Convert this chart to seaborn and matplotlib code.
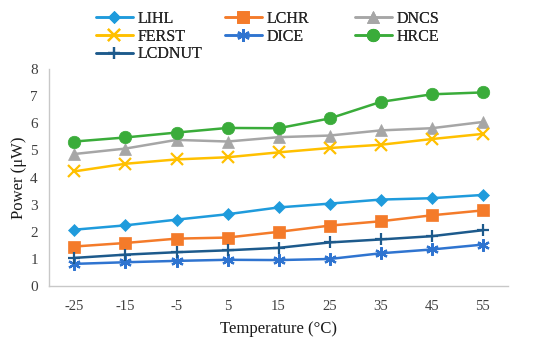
import matplotlib
matplotlib.use("Agg")
import matplotlib.pyplot as plt
import seaborn as sns
import pandas as pd

temps = ["-25", "-15", "-5", "5", "15", "25", "35", "45", "55"]
lihl = [2.08, 2.24, 2.45, 2.65, 2.90, 3.04, 3.19, 3.24, 3.36]
lchr = [1.46, 1.59, 1.75, 1.79, 2.00, 2.23, 2.39, 2.61, 2.79]
dncs = [4.87, 5.07, 5.39, 5.33, 5.49, 5.55, 5.74, 5.82, 6.05]
ferst = [4.23, 4.51, 4.67, 4.75, 4.93, 5.09, 5.21, 5.42, 5.61]
dice = [0.82, 0.88, 0.93, 0.97, 0.96, 1.00, 1.21, 1.35, 1.53]
hrce = [5.33, 5.48, 5.66, 5.83, 5.82, 6.18, 6.79, 7.07, 7.14]
lcdnut = [1.04, 1.16, 1.25, 1.32, 1.41, 1.61, 1.72, 1.84, 2.06]

series = {"LIHL": lihl, "LCHR": lchr, "DNCS": dncs, "FERST": ferst,
          "DICE": dice, "HRCE": hrce, "LCDNUT": lcdnut}
names = list(series.keys())

rows = []
for name, vals in series.items():
    for t, v in zip(temps, vals):
        rows.append({"Temperature": t, "Power": v, "Series": name})
df = pd.DataFrame(rows)

palette = {"LIHL": "#1f9bdc", "LCHR": "#f47b2a", "DNCS": "#a6a6a6",
           "FERST": "#ffc000", "DICE": "#2f74d0", "HRCE": "#3aac3a",
           "LCDNUT": "#1d5a8c"}
markers = {"LIHL": "D", "LCHR": "s", "DNCS": "^", "FERST": "x",
           "DICE": (6, 2, 0), "HRCE": "o", "LCDNUT": "+"}
msizes = {"LIHL": 6.5, "LCHR": 8.5, "DNCS": 8.5, "FERST": 8,
          "DICE": 9, "HRCE": 9, "LCDNUT": 9}

sns.set_style("white")
plt.rcParams["font.family"] = ["Liberation Serif", "DejaVu Serif"]

fig = plt.figure(figsize=(5.5, 3.37), dpi=100)
ax = fig.add_axes([0.089, 0.151, 0.835, 0.644])

for name in names:
    sub = df[df["Series"] == name]
    thin = markers[name] in ("x", "+") or isinstance(markers[name], tuple)
    sns.lineplot(data=sub, x="Temperature", y="Power", ax=ax,
                 color=palette[name], marker=markers[name],
                 markersize=msizes[name], linewidth=1.8,
                 markeredgewidth=1.6 if thin else 0.5,
                 markeredgecolor=palette[name], label=name, sort=False)

h, l = ax.get_legend_handles_labels()
hd = dict(zip(l, h))
ax.get_legend().remove() if ax.get_legend() else None

columns = [(["LIHL", "FERST", "LCDNUT"], 96), (["LCHR", "DICE"], 225),
           (["DNCS", "HRCE"], 355)]
for labs, xpx in columns:
    leg = fig.legend([hd[n] for n in labs], labs, loc="upper left",
                     bbox_to_anchor=(xpx / 550, 1 - 11 / 337),
                     frameon=False, fontsize=11.5, handlelength=2.3,
                     handletextpad=0.3, labelspacing=0.1,
                     borderaxespad=0, borderpad=0)
    fig.add_artist(leg)

ax.set_xlim(-0.5, 8.5)
ax.set_ylim(0, 8)
ax.set_yticks(range(0, 9))
ax.set_xticks([i - 0.5 for i in range(10)], minor=False)
ax.set_xticklabels([])
ax.set_xticks(range(9), minor=True)
ax.set_xticklabels(temps, minor=True)
ax.tick_params(axis="x", which="minor", length=0, pad=10, labelsize=10.5, labelcolor="#404040")
ax.tick_params(axis="x", which="major", length=5, direction="out", color="#c8c8c8", width=1)
ax.tick_params(axis="y", length=5, direction="out", color="#c8c8c8", width=1, labelsize=11, labelcolor="#404040", pad=3)

for s in ["top", "right"]:
    ax.spines[s].set_visible(False)
for s in ["left", "bottom"]:
    ax.spines[s].set_color("#c8c8c8")
    ax.spines[s].set_linewidth(1)

ax.set_xlabel("Temperature (°C)", fontsize=12, labelpad=6, color="#1a1a1a")
ax.set_ylabel("Power (μW)", fontsize=12, labelpad=2, color="#1a1a1a")

fig.savefig("out.png", dpi=100)
